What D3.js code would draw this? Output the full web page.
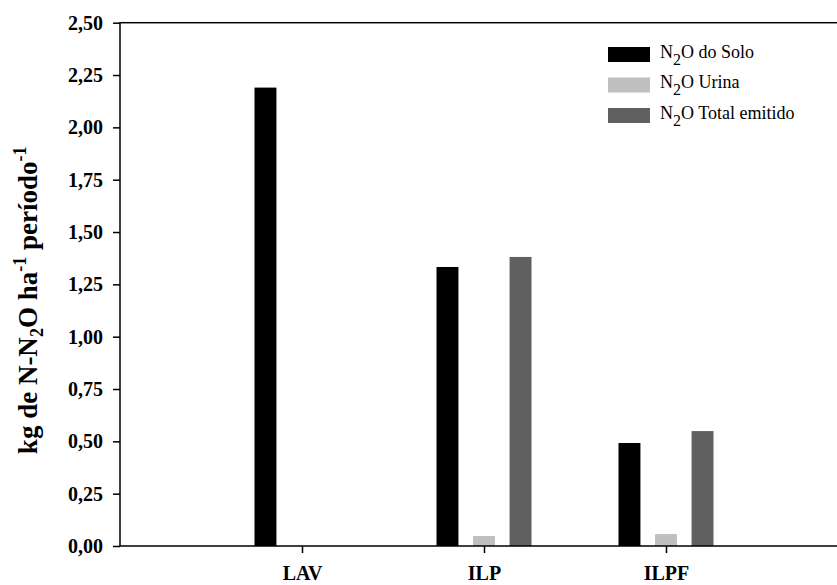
<!DOCTYPE html>
<html>
<head>
<meta charset="utf-8">
<script src="https://cdn.jsdelivr.net/npm/d3@7"></script>
<style>
html,body{margin:0;padding:0;background:#fff;}
svg{display:block;}
svg text{font-family:"Liberation Serif","Times New Roman",serif;}
</style>
</head>
<body>
<script>
const categories = ["LAV", "ILP", "ILPF"];
const seriesNames = ["solo", "urina", "total"];
const soloValues = [2.19, 1.333, 0.492];
const urinaValues = [0, 0.048, 0.057];
const totalValues = [0, 1.381, 0.549];
const yTicks = [0, 0.25, 0.5, 0.75, 1.0, 1.25, 1.5, 1.75, 2.0, 2.25, 2.5];
const legendLabels = [" do Solo", " Urina", " Total emitido"];
const colors = ["#000000", "#c0c0c0", "#606060"];

const W = 837, H = 585;
const mLeft = 120, mRight = 848, mTop = 22.7, mBottom = 546;

const svg = d3.select("body").append("svg").attr("width", W).attr("height", H);

const y = d3.scaleLinear().domain([0, 2.5]).range([mBottom, mTop]);
const x = d3.scalePoint().domain(categories).range([mLeft, mRight]).padding(1);
const xs = d3.scaleBand().domain(seriesNames).range([-47.5, 47.5]).paddingInner(0.4);

const allSeries = [soloValues, urinaValues, totalValues];
const data = [];
categories.forEach((c, i) => {
  seriesNames.forEach((s, j) => {
    data.push({cat: c, s: s, v: allSeries[j][i], color: colors[j]});
  });
});

svg.append("g").selectAll("rect").data(data.filter(d => d.v > 0)).join("rect")
  .attr("x", d => x(d.cat) + xs(d.s))
  .attr("width", xs.bandwidth())
  .attr("y", d => y(d.v))
  .attr("height", d => y(0) - y(d.v))
  .attr("fill", d => d.color);

// y axis
const yAxis = d3.axisLeft(y).tickValues(yTicks).tickSize(7).tickPadding(10)
  .tickFormat(d => d3.format(".2f")(d).replace(".", ","));
const gy = svg.append("g").attr("transform", `translate(${mLeft},0)`).call(yAxis)
  .attr("font-family", null);
gy.select(".domain").remove();
gy.selectAll(".tick line").attr("stroke", "#000").attr("stroke-width", 1.5);
gy.selectAll(".tick text").attr("font-weight", "bold")
  .attr("font-size", "20px").attr("fill", "#000");

// x axis
const xAxis = d3.axisBottom(x).tickSize(7).tickPadding(8);
const gx = svg.append("g").attr("transform", `translate(0,${mBottom})`).call(xAxis)
  .attr("font-family", null);
gx.select(".domain").remove();
gx.selectAll(".tick line").attr("stroke", "#000").attr("stroke-width", 1.5);
gx.selectAll(".tick text").attr("font-weight", "bold").attr("dy", null)
  .attr("y", 34)
  .attr("font-size", "20px").attr("fill", "#000");

// frame
svg.append("rect").attr("x", mLeft).attr("y", mTop).attr("width", mRight - mLeft).attr("height", mBottom - mTop)
  .attr("fill", "none").attr("stroke", "#000").attr("stroke-width", 1.5);

// y label
const yl = svg.append("text")
  .attr("transform", `translate(37,${(mTop + mBottom) / 2 + 16}) rotate(-90)`)
  .attr("text-anchor", "middle")
  .attr("font-weight", "bold").attr("font-size", "27px").attr("fill", "#000");
yl.append("tspan").text("kg de N-N");
yl.append("tspan").text("2").attr("font-size", "18px").attr("dy", 6);
yl.append("tspan").text("O ha").attr("dy", -6);
yl.append("tspan").text("-1").attr("font-size", "18px").attr("dy", -11);
yl.append("tspan").text(" período").attr("dy", 11);
yl.append("tspan").text("-1").attr("font-size", "18px").attr("dy", -11);

// legend
const lg = svg.append("g");
const ly = d3.scalePoint().domain(seriesNames).range([54.5, 115.5]);
seriesNames.forEach((s, j) => {
  lg.append("rect").attr("x", 608).attr("y", ly(s) - 7.5).attr("width", 42).attr("height", 15).attr("fill", colors[j]);
  const t = lg.append("text").attr("x", 660).attr("y", ly(s) + 3)
    .attr("font-size", "18px").attr("fill", "#000");
  t.append("tspan").text("N");
  t.append("tspan").text("2").attr("font-size", "16px").attr("dy", 7);
  t.append("tspan").text("O" + legendLabels[j]).attr("dy", -7);
});
</script>
</body>
</html>
